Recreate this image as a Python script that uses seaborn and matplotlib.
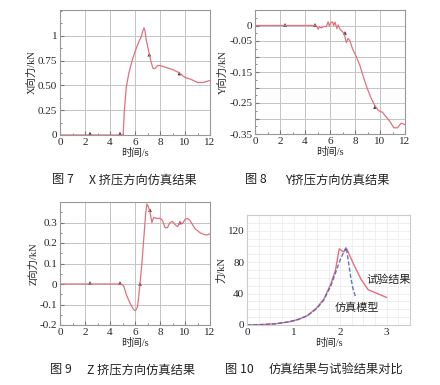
import numpy as np
import pandas as pd
import matplotlib
matplotlib.use('Agg')
import matplotlib.pyplot as plt
from matplotlib.ticker import MultipleLocator
import seaborn as sns

# ---- data ----
# Fig 7: X direction force (kN) vs time (s)
x_time = [0, 2.4, 4.8, 5.05, 5.15, 5.3, 5.5, 5.75, 6.0, 6.3, 6.5, 6.6, 6.72, 6.8,
          6.9, 7.1, 7.3, 7.45, 7.6, 7.8, 8.0, 8.5, 9.0, 9.5, 10.0, 10.5, 11.0, 11.5, 12.0]
x_force = [0, 0, 0, 0, 0.25, 0.48, 0.62, 0.74, 0.84, 0.94, 0.99, 1.04, 1.08, 1.05,
           0.96, 0.84, 0.73, 0.67, 0.67, 0.70, 0.70, 0.68, 0.66, 0.63, 0.58, 0.56, 0.53, 0.53, 0.55]
x_mark_t = [2.4, 4.8, 7.15, 9.55]
x_mark_f = [0.015, 0.015, 0.81, 0.62]

# Fig 8: Y direction force
y_time = [0, 4.9, 5.05, 5.15, 5.3, 5.5, 5.7, 5.85, 5.95, 6.05, 6.2, 6.3, 6.4, 6.55,
          6.65, 6.8, 7.0, 7.15, 7.3, 7.45, 7.6, 7.8, 8.1, 8.4, 8.7, 9.0, 9.3, 9.6,
          9.9, 10.2, 10.5, 10.8, 11.1, 11.4, 11.7, 12.0]
y_force = [0, 0, -0.012, -0.004, -0.008, -0.003, -0.004, 0.012, -0.002, 0.008, 0.012,
           0.0, 0.011, -0.01, 0.002, -0.012, -0.02, -0.028, -0.055, -0.042, -0.05,
           -0.075, -0.1, -0.13, -0.17, -0.205, -0.235, -0.26, -0.275, -0.28, -0.295,
           -0.31, -0.33, -0.33, -0.315, -0.32]
y_mark_t = [2.4, 4.8, 7.2, 9.6]
y_mark_f = [0.002, 0.002, -0.024, -0.263]

# Fig 9: Z direction force
z_time = [0, 4.9, 5.1, 5.3, 5.5, 5.7, 5.9, 6.0, 6.1, 6.2, 6.3, 6.4, 6.55, 6.7, 6.85,
          6.95, 7.05, 7.2, 7.35, 7.5, 7.7, 8.0, 8.2, 8.4, 8.6, 8.8, 9.0, 9.2, 9.4,
          9.6, 9.8, 10.0, 10.2, 10.4, 10.6, 10.8, 11.0, 11.2, 11.4, 11.6, 11.8, 12.0]
z_force = [0, 0, -0.01, -0.05, -0.08, -0.105, -0.125, -0.13, -0.125, -0.11, -0.06,
           0.0, 0.1, 0.22, 0.34, 0.39, 0.38, 0.35, 0.30, 0.325, 0.32, 0.32, 0.31,
           0.275, 0.275, 0.30, 0.305, 0.29, 0.28, 0.30, 0.295, 0.315, 0.32, 0.31,
           0.29, 0.27, 0.26, 0.25, 0.245, 0.24, 0.24, 0.245]
z_mark_t = [2.4, 4.8, 6.4, 7.2, 9.6]
z_mark_f = [0.005, 0.005, 0.0, 0.36, 0.30]

# Fig 10: simulation vs test
test_time = [0, 0.3, 0.6, 0.9, 1.1, 1.3, 1.5, 1.65, 1.8, 1.9, 1.98, 2.07, 2.14,
             2.3, 2.45, 2.6, 2.8, 3.0]
test_force = [0, 0.5, 1.5, 4, 7, 12, 22, 33, 52, 70, 97, 93, 97, 76, 58, 45, 40, 35]
sim_time = [0, 0.3, 0.6, 0.9, 1.1, 1.3, 1.5, 1.65, 1.8, 1.9, 2.0, 2.08, 2.13,
            2.18, 2.23, 2.28, 2.33]
sim_force = [0, 0.5, 1.5, 4, 7, 12, 21, 32, 50, 66, 83, 93, 99, 80, 60, 45, 36]

red = '#e2707e'
serif = ['Liberation Serif', 'Noto Sans CJK SC']
cjk = ['Noto Sans CJK SC', 'DejaVu Sans']

sns.set_style('whitegrid')
plt.rcParams['font.family'] = serif
plt.rcParams['axes.unicode_minus'] = False

fig = plt.figure(figsize=(4.4, 3.85), dpi=100)


def px_axes(left, top, right, bottom):
    return fig.add_axes([left / 440, 1 - bottom / 385,
                         (right - left) / 440, (bottom - top) / 385])


def style_sim(ax, ylabel):
    ax.set_xlim(0, 12)
    ax.xaxis.set_major_locator(MultipleLocator(2))
    ax.xaxis.set_minor_locator(MultipleLocator(1))
    ax.grid(True, which='major', color='#c4c4c4', lw=0.7)
    ax.tick_params(which='both', direction='in', labelsize=8, pad=2,
                   color='#777777', top=False, right=False, left=True, bottom=True)
    ax.tick_params(which='major', length=3)
    ax.tick_params(which='minor', length=1.5)
    for s in ax.spines.values():
        s.set_color('#999999')
        s.set_linewidth(0.8)
    ax.set_xlabel('时间/s', fontsize=7.5, labelpad=1)
    ax.set_ylabel(ylabel, fontsize=7.5, labelpad=1)


# Fig 7
ax1 = px_axes(60, 10, 210, 135)
sns.lineplot(x=x_time, y=x_force, ax=ax1, color=red, lw=0.9)
sns.scatterplot(x=x_mark_t, y=x_mark_f, ax=ax1, marker='^', s=7, color='#333333',
                edgecolor='none')
style_sim(ax1, 'X向力/kN')
ax1.set_ylim(0, 1.26)
ax1.set_yticks([0, 0.25, 0.5, 0.75, 1])
ax1.set_yticklabels(['0', '0.25', '0.50', '0.75', '1'])
ax1.yaxis.set_minor_locator(MultipleLocator(0.125))

# Fig 8
ax2 = px_axes(255, 10, 405, 134)
sns.lineplot(x=y_time, y=y_force, ax=ax2, color=red, lw=0.9)
sns.scatterplot(x=y_mark_t, y=y_mark_f, ax=ax2, marker='^', s=7, color='#333333',
                edgecolor='none')
style_sim(ax2, 'Y向力/kN')
ax2.set_ylim(-0.35, 0.05)
yt2 = [0, -0.05, -0.1, -0.15, -0.2, -0.25, -0.3, -0.35]
ax2.set_yticks(yt2)
ax2.set_yticklabels(['0', '-0.05', '', '-0.15', '', '-0.25', '', '-0.35'])
ax2.yaxis.set_minor_locator(MultipleLocator(0.025))

# Fig 9
ax3 = px_axes(60, 202, 210, 325)
sns.lineplot(x=z_time, y=z_force, ax=ax3, color=red, lw=0.9)
sns.scatterplot(x=z_mark_t, y=z_mark_f, ax=ax3, marker='^', s=7, color='#333333',
                edgecolor='none')
style_sim(ax3, 'Z向力/kN')
ax3.set_ylim(-0.2, 0.4)
ax3.set_yticks([-0.2, -0.1, 0, 0.1, 0.2, 0.3])
ax3.set_yticklabels(['-0.2', '-0.1', '0', '0.1', '0.2', '0.3'])
ax3.yaxis.set_minor_locator(MultipleLocator(0.05))

# Fig 10
ax4 = px_axes(247, 215, 410, 325)
sns.lineplot(x=test_time, y=test_force, ax=ax4, color=red, lw=1.0)
sns.lineplot(x=sim_time, y=sim_force, ax=ax4, color='#4a5fb0', lw=1.0,
             linestyle=(0, (3, 1.5)), alpha=0.85)
ax4.set_xlim(0, 3.5)
ax4.set_ylim(0, 140)
ax4.set_xticks([0, 1, 2, 3])
ax4.set_yticks([0, 40, 80, 120])
ax4.xaxis.set_minor_locator(MultipleLocator(0.25))
ax4.yaxis.set_minor_locator(MultipleLocator(10))
ax4.grid(True, which='both', color='#ececec', lw=0.6)
ax4.tick_params(which='both', length=0, labelsize=8, pad=2)
for s in ax4.spines.values():
    s.set_color('#cccccc')
    s.set_linewidth(0.8)
ax4.set_xlabel('时间/s', fontsize=7.5, labelpad=1)
ax4.set_ylabel('力/kN', fontsize=7.5, labelpad=1)
ax4.text(2.57, 58, '试验结果', fontsize=8, family=cjk, color='#222222', va='center')
ax4.text(1.88, 22, '仿真模型', fontsize=8, family=cjk, color='#222222', va='center')

# captions
cap = dict(fontsize=8.8, family=cjk, color='#222222', va='center', ha='left')
fig.text(52 / 440, 1 - 180 / 385, '图 7', **cap)
fig.text(89 / 440, 1 - 180 / 385, 'X 挤压方向仿真结果', **cap)
fig.text(245 / 440, 1 - 180 / 385, '图 8', **cap)
fig.text(285 / 440, 1 - 180 / 385, 'Y挤压方向仿真结果', **cap)
fig.text(50 / 440, 1 - 370 / 385, '图 9', **cap)
fig.text(87 / 440, 1 - 370 / 385, 'Z 挤压方向仿真结果', **cap)
fig.text(225 / 440, 1 - 369 / 385, '图 10', **cap)
fig.text(269 / 440, 1 - 369 / 385, '仿真结果与试验结果对比', **cap)

fig.savefig('out.png', dpi=100, facecolor='white')
